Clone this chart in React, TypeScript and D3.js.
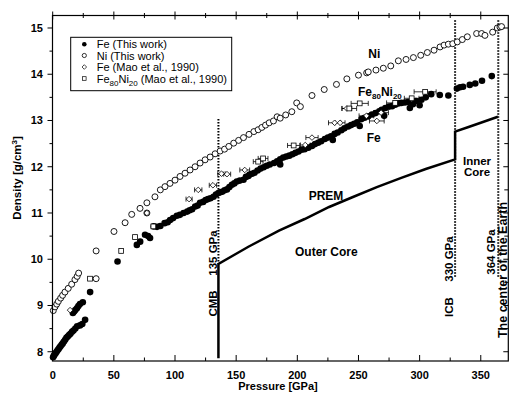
import React from "react";
import * as d3 from "d3";

// ---- data: [pressure GPa, density g/cm3] ----
const feThisWork: [number, number][] = [
  [0.3, 7.88], [0.9, 7.91], [1.6, 7.94], [2.4, 7.97], [3.2, 8.0], [4, 8.03], [4.8, 8.06], [5.6, 8.09],
  [6.4, 8.12], [7.3, 8.15], [8.2, 8.18], [9.2, 8.22], [10.2, 8.26], [11.2, 8.3], [12.3, 8.33], [13.4, 8.36],
  [14.5, 8.39], [15.8, 8.43], [17, 8.46], [18.5, 8.5], [20, 8.55], [22.3, 8.57], [24.2, 8.6], [26.5, 8.69],
  [16.5, 8.84], [17.5, 8.87], [18.5, 8.9], [19.8, 8.94], [21, 8.99], [22.3, 9.03], [24.6, 9.07], [30.6, 9.29],
  [53, 9.95], [68.8, 10.31], [71.5, 10.38], [75.5, 10.53], [78, 10.5], [79.6, 10.46], [82.6, 10.71], [85.3, 10.7],
  [88, 10.72], [91.5, 10.78], [94, 10.8], [96, 10.85], [98.5, 10.89], [101.5, 10.94], [104, 10.96], [107, 11.0],
  [110, 11.03], [112, 11.06], [114, 11.08], [116.5, 11.14], [118.5, 11.16], [120.5, 11.22], [123, 11.24], [125, 11.28],
  [127, 11.3], [129, 11.32], [131.5, 11.35], [133.5, 11.4], [135.5, 11.43], [137, 11.45], [138.5, 11.46], [140.5, 11.49],
  [142.5, 11.51], [144.5, 11.56], [146.5, 11.61], [148.5, 11.64], [150.5, 11.68], [153, 11.7], [156, 11.72], [158, 11.78],
  [161, 11.83], [163, 11.85], [165, 11.87], [167.5, 11.92], [170, 11.96], [172.5, 11.99], [175, 12.02], [177.5, 12.05],
  [181, 12.08], [183.5, 12.12], [186, 12.16], [188.5, 12.2], [191, 12.22], [193.5, 12.24], [196, 12.27], [198.5, 12.3],
  [201, 12.33], [203.5, 12.37], [206, 12.38], [209, 12.41], [212, 12.45], [214.5, 12.49], [217, 12.52], [219.5, 12.55],
  [222.5, 12.6], [225, 12.63], [227.5, 12.66], [230.5, 12.71], [233, 12.74], [236, 12.79], [238.5, 12.83], [241.5, 12.87],
  [244, 12.9], [246.5, 12.93], [249, 12.96], [252.5, 13.03], [255, 13.06], [258, 13.09], [261, 13.13], [264, 13.16],
  [267, 13.2], [269, 13.23], [272, 13.27], [275, 13.3], [277.5, 13.31], [280, 13.34], [282.5, 13.37], [285, 13.38],
  [288, 13.39], [290.5, 13.4], [292, 13.27], [294.5, 13.35], [297, 13.42], [300, 13.33], [301.5, 13.45], [305, 13.5],
  [309.5, 13.57], [316.5, 13.55], [323.5, 13.54], [229, 12.58], [186, 12.05], [251, 12.88], [271, 13.1], [160, 11.8],
  [330.5, 13.69], [333, 13.72], [335.5, 13.73], [341, 13.77], [345.5, 13.8], [351, 13.86], [359, 13.96],
];

const niThisWork: [number, number][] = [
  [0.5, 8.89], [1.9, 8.97], [3.3, 9.03], [4.6, 9.09], [6.5, 9.16], [8.1, 9.22], [10, 9.29], [12.7, 9.37],
  [15.5, 9.46], [18.2, 9.56], [20, 9.63], [21.2, 9.7], [35.5, 9.58], [35.5, 10.18], [50.1, 10.6], [59.2, 10.79],
  [64.6, 10.97], [71.4, 11.1], [77, 11.22], [77, 11.0], [83.6, 11.35], [88, 11.5], [91.8, 11.57], [95.9, 11.64],
  [100, 11.71], [104.1, 11.79], [108.2, 11.86], [112.3, 11.93], [116.4, 12.0], [120.5, 12.08], [124.6, 12.15], [128.7, 12.21],
  [132.8, 12.28], [136.9, 12.34], [140.5, 12.38], [144, 12.44], [148, 12.51], [152, 12.57], [156, 12.63], [160.5, 12.7],
  [164.5, 12.76], [168, 12.8], [171, 12.85], [174, 12.9], [177, 12.95], [180.5, 12.99], [183.5, 13.08], [186, 13.05],
  [190.5, 13.12], [195.5, 13.19], [199.5, 13.38], [202.5, 13.3], [212, 13.54], [222, 13.67], [232, 13.78], [240.5, 13.9],
  [250, 13.98], [256.7, 14.03], [258, 14.05], [264.3, 14.09], [270.3, 14.13], [276.4, 14.18], [282.6, 14.29], [288.9, 14.32],
  [294.9, 14.36], [300.9, 14.41], [306.3, 14.47], [311.8, 14.52], [316.7, 14.59], [320, 14.63], [323.5, 14.65], [327.1, 14.66],
  [330.8, 14.7], [334.9, 14.75], [339, 14.81], [346.6, 14.88], [350.7, 14.88], [353.4, 14.84], [359.7, 14.91], [363.5, 15.0],
  [365.7, 15.02], [367, 15.03],
];

// [pressure, density, half-width of pressure error bar]
const feMao1990: [number, number, number][] = [
  [14.2, 8.9, 0], [77, 11.0, 0], [111.5, 11.3, 2.5], [119, 11.5, 3], [131, 11.6, 3], [138, 11.85, 3],
  [142.5, 11.84, 3], [157, 11.93, 4], [206.5, 12.47, 4], [212, 12.63, 5], [230.5, 12.95, 5], [235, 12.95, 4],
  [240.5, 13.26, 4], [256.5, 13.1, 6], [265, 12.99, 6], [268.5, 13.17, 6],
];
const feNiMao1990: [number, number, number][] = [
  [30.5, 9.58, 0], [56, 10.18, 0], [67.3, 10.48, 0], [82.3, 10.71, 0], [168, 12.11, 4], [172, 12.18, 4],
  [197, 12.46, 5], [242.5, 13.26, 6], [251, 13.37, 7], [280, 13.38, 7], [293.5, 13.48, 6], [304.5, 13.62, 9],
];

const premProfile: [number, number][] = [
  [135.5, 7.86], [135.5, 9.9], [160, 10.27], [185, 10.62], [206, 10.87], [226, 11.13], [245, 11.34],
  [265, 11.56], [285, 11.76], [305, 11.95], [329, 12.16], [329, 12.76], [340, 12.86], [350, 12.95], [364, 13.08],
];

const xMajorTicks = [0, 50, 100, 150, 200, 250, 300, 350];
const xMinorTicks = [25, 75, 125, 175, 225, 275, 325];
const yMajorTicks = [8, 9, 10, 11, 12, 13, 14, 15];
const yMinorTicks = [8.5, 9.5, 10.5, 11.5, 12.5, 13.5, 14.5];

const boundaryP = [135.5, 329, 364.3];
const boundaryTop = [13.03, 15.17, 15.17];
const boundaryBottom = [9.9, 9.6, 9.6];

const FONT = "'Liberation Sans', Arial, Helvetica, sans-serif";

export default function App() {
  const W = 510, H = 393;
  const L = 52.5, R = 508.3, T = 15.5, B = 361;
  const x = d3.scaleLinear().domain([0, 372.5]).range([52.7, 508.3]);
  const y = d3.scaleLinear().domain([7.8, 15.27]).range([B, T]);
  const line = d3.line<[number, number]>().x((d) => x(d[0])).y((d) => y(d[1]));
  const diamond = (cx: number, cy: number, s: number) =>
    `M${cx},${cy - s}L${cx + s},${cy}L${cx},${cy + s}L${cx - s},${cy}Z`;

  const errBar = (d: [number, number, number], i: number, key: string) =>
    d[2] > 0 ? (
      <g key={key + i} stroke="#000" strokeWidth={0.8}>
        <line x1={x(d[0] - d[2])} x2={x(d[0] + d[2])} y1={y(d[1])} y2={y(d[1])} />
        <line x1={x(d[0] - d[2])} x2={x(d[0] - d[2])} y1={y(d[1]) - 2.5} y2={y(d[1]) + 2.5} />
        <line x1={x(d[0] + d[2])} x2={x(d[0] + d[2])} y1={y(d[1]) - 2.5} y2={y(d[1]) + 2.5} />
      </g>
    ) : null;

  const legendItems = [
    { kind: "fill", label: <tspan>Fe (This work)</tspan> },
    { kind: "open", label: <tspan>Ni (This work)</tspan> },
    { kind: "diamond", label: <tspan>Fe (Mao et al., 1990)</tspan> },
    {
      kind: "square",
      label: (
        <>
          <tspan>Fe</tspan>
          <tspan fontSize={8} dy={3}>80</tspan>
          <tspan dy={-3}>Ni</tspan>
          <tspan fontSize={8} dy={3}>20</tspan>
          <tspan dy={-3}> (Mao et al., 1990)</tspan>
        </>
      ),
    },
  ];
  const legendY = [44.3, 55.5, 67, 78.5];

  return (
    <svg width={W} height={H} style={{ position: "absolute", left: 0, top: 0, background: "#fff" }} fontFamily={FONT}>
      <rect x={0} y={0} width={W} height={H} fill="#fff" />

      {/* boundaries (dotted) */}
      {boundaryP.map((p, i) => (
        <line key={"b" + i} x1={x(p)} x2={x(p)} y1={y(boundaryTop[i])} y2={y(boundaryBottom[i])}
          stroke="#000" strokeWidth={2} strokeDasharray="1.5,1.5" />
      ))}

      {/* PREM */}
      <path d={line(premProfile) || ""} fill="none" stroke="#000" strokeWidth={2.5} />

      {/* Ni open circles */}
      {niThisWork.map((d, i) => (
        <circle key={"ni" + i} cx={x(d[0])} cy={y(d[1])} r={3} fill="#fff" stroke="#000" strokeWidth={0.9} />
      ))}
      {/* Fe filled */}
      {feThisWork.map((d, i) => (
        <circle key={"fe" + i} cx={x(d[0])} cy={y(d[1])} r={3.3} fill="#000" />
      ))}

      {/* Mao et al. */}
      {feMao1990.map((d, i) => errBar(d, i, "fe_e"))}
      {feNiMao1990.map((d, i) => errBar(d, i, "feni_e"))}
      {feMao1990.map((d, i) => (
        <path key={"fm" + i} d={diamond(x(d[0]), y(d[1]), 2.8)} fill="#fff" stroke="#000" strokeWidth={0.8} />
      ))}
      {feNiMao1990.map((d, i) => (
        <rect key={"fnm" + i} x={x(d[0]) - 2.4} y={y(d[1]) - 2.4} width={4.8} height={4.8} fill="#fff" stroke="#000" strokeWidth={0.8} />
      ))}

      {/* frame */}
      <rect x={L} y={T} width={R - L} height={B - T} fill="none" stroke="#000" strokeWidth={1.2} />

      {/* x ticks */}
      {xMajorTicks.map((t) => (
        <g key={"xt" + t} stroke="#000" strokeWidth={1}>
          <line x1={x(t)} x2={x(t)} y1={B} y2={B - 6} />
          <line x1={x(t)} x2={x(t)} y1={T - 4} y2={T + 4} />
        </g>
      ))}
      {xMinorTicks.map((t) => (
        <g key={"xm" + t} stroke="#000" strokeWidth={1}>
          <line x1={x(t)} x2={x(t)} y1={B} y2={B - 3.5} />
          <line x1={x(t)} x2={x(t)} y1={T - 2.5} y2={T + 2.5} />
        </g>
      ))}
      {xMajorTicks.map((t) => (
        <text key={"xl" + t} x={x(t)} y={379} textAnchor="middle" fontSize={11} fontWeight="bold">{t}</text>
      ))}

      {/* y ticks */}
      {yMajorTicks.map((t) => (
        <g key={"yt" + t} stroke="#000" strokeWidth={1}>
          <line x1={L - 5} x2={L} y1={y(t)} y2={y(t)} />
          <line x1={R - 5} x2={R} y1={y(t)} y2={y(t)} />
        </g>
      ))}
      {yMinorTicks.map((t) => (
        <g key={"ym" + t} stroke="#000" strokeWidth={1}>
          <line x1={L - 3} x2={L} y1={y(t)} y2={y(t)} />
          <line x1={R - 4} x2={R} y1={y(t)} y2={y(t)} />
        </g>
      ))}
      {yMajorTicks.map((t) => (
        <text key={"yl" + t} x={43} y={y(t) + 4} textAnchor="end" fontSize={11} fontWeight="bold">{t}</text>
      ))}

      {/* axis titles */}
      <text x={278} y={390} textAnchor="middle" fontSize={11} fontWeight="bold">Pressure [GPa]</text>
      <text transform={`translate(21,178) rotate(-90)`} textAnchor="middle" fontSize={11.5} fontWeight="bold">
        Density [g/cm<tspan fontSize={8} dy={-4}>3</tspan><tspan dy={4}>]</tspan>
      </text>

      {/* annotations */}
      <text x={x(263)} y={58} textAnchor="middle" fontSize={12} fontWeight="bold">Ni</text>
      <text x={358} y={96} fontSize={12} fontWeight="bold">
        Fe<tspan fontSize={8} dy={3}>80</tspan><tspan dy={-3}>Ni</tspan><tspan fontSize={8} dy={3}>20</tspan>
      </text>
      <text x={x(262.5)} y={142} textAnchor="middle" fontSize={12} fontWeight="bold">Fe</text>
      <text x={326} y={199.5} textAnchor="middle" fontSize={12} fontWeight="bold">PREM</text>
      <text x={295} y={256} fontSize={12} fontWeight="bold">Outer Core</text>
      <text x={477} y={165} textAnchor="middle" fontSize={11.5} fontWeight="bold">Inner</text>
      <text x={477} y={176} textAnchor="middle" fontSize={11.5} fontWeight="bold">Core</text>

      <text transform={`translate(217,253) rotate(-90)`} textAnchor="middle" fontSize={11.5} fontWeight="bold">135 GPa</text>
      <text transform={`translate(217,303.5) rotate(-90)`} textAnchor="middle" fontSize={11.5} fontWeight="bold">CMB</text>
      <text transform={`translate(453,259) rotate(-90)`} textAnchor="middle" fontSize={11.5} fontWeight="bold">330 GPa</text>
      <text transform={`translate(453,307) rotate(-90)`} textAnchor="middle" fontSize={11.5} fontWeight="bold">ICB</text>
      <text transform={`translate(495,252) rotate(-90)`} textAnchor="middle" fontSize={11.5} fontWeight="bold">364 GPa</text>
      <text transform={`translate(507,270) rotate(-90)`} textAnchor="middle" fontSize={12.5} fontWeight="bold">The center of the Earth</text>

      {/* legend */}
      <rect x={70.7} y={37.3} width={161} height={53.4} fill="#fff" stroke="#000" strokeWidth={1} />
      {legendItems.map((it, i) => {
        const cy = legendY[i];
        const cx = 84.3;
        let m: React.ReactNode = null;
        if (it.kind === "fill") m = <circle cx={cx} cy={cy} r={2.3} fill="#000" />;
        if (it.kind === "open") m = <circle cx={cx} cy={cy} r={2.1} fill="#fff" stroke="#000" strokeWidth={0.8} />;
        if (it.kind === "diamond") m = <path d={diamond(cx, cy, 2.3)} fill="#fff" stroke="#000" strokeWidth={0.7} />;
        if (it.kind === "square") m = <rect x={cx - 1.8} y={cy - 1.8} width={3.6} height={3.6} fill="#fff" stroke="#000" strokeWidth={0.7} />;
        return (
          <g key={"lg" + i}>
            {m}
            <text x={96.7} y={cy + 4} fontSize={11}>{it.label}</text>
          </g>
        );
      })}
    </svg>
  );
}
